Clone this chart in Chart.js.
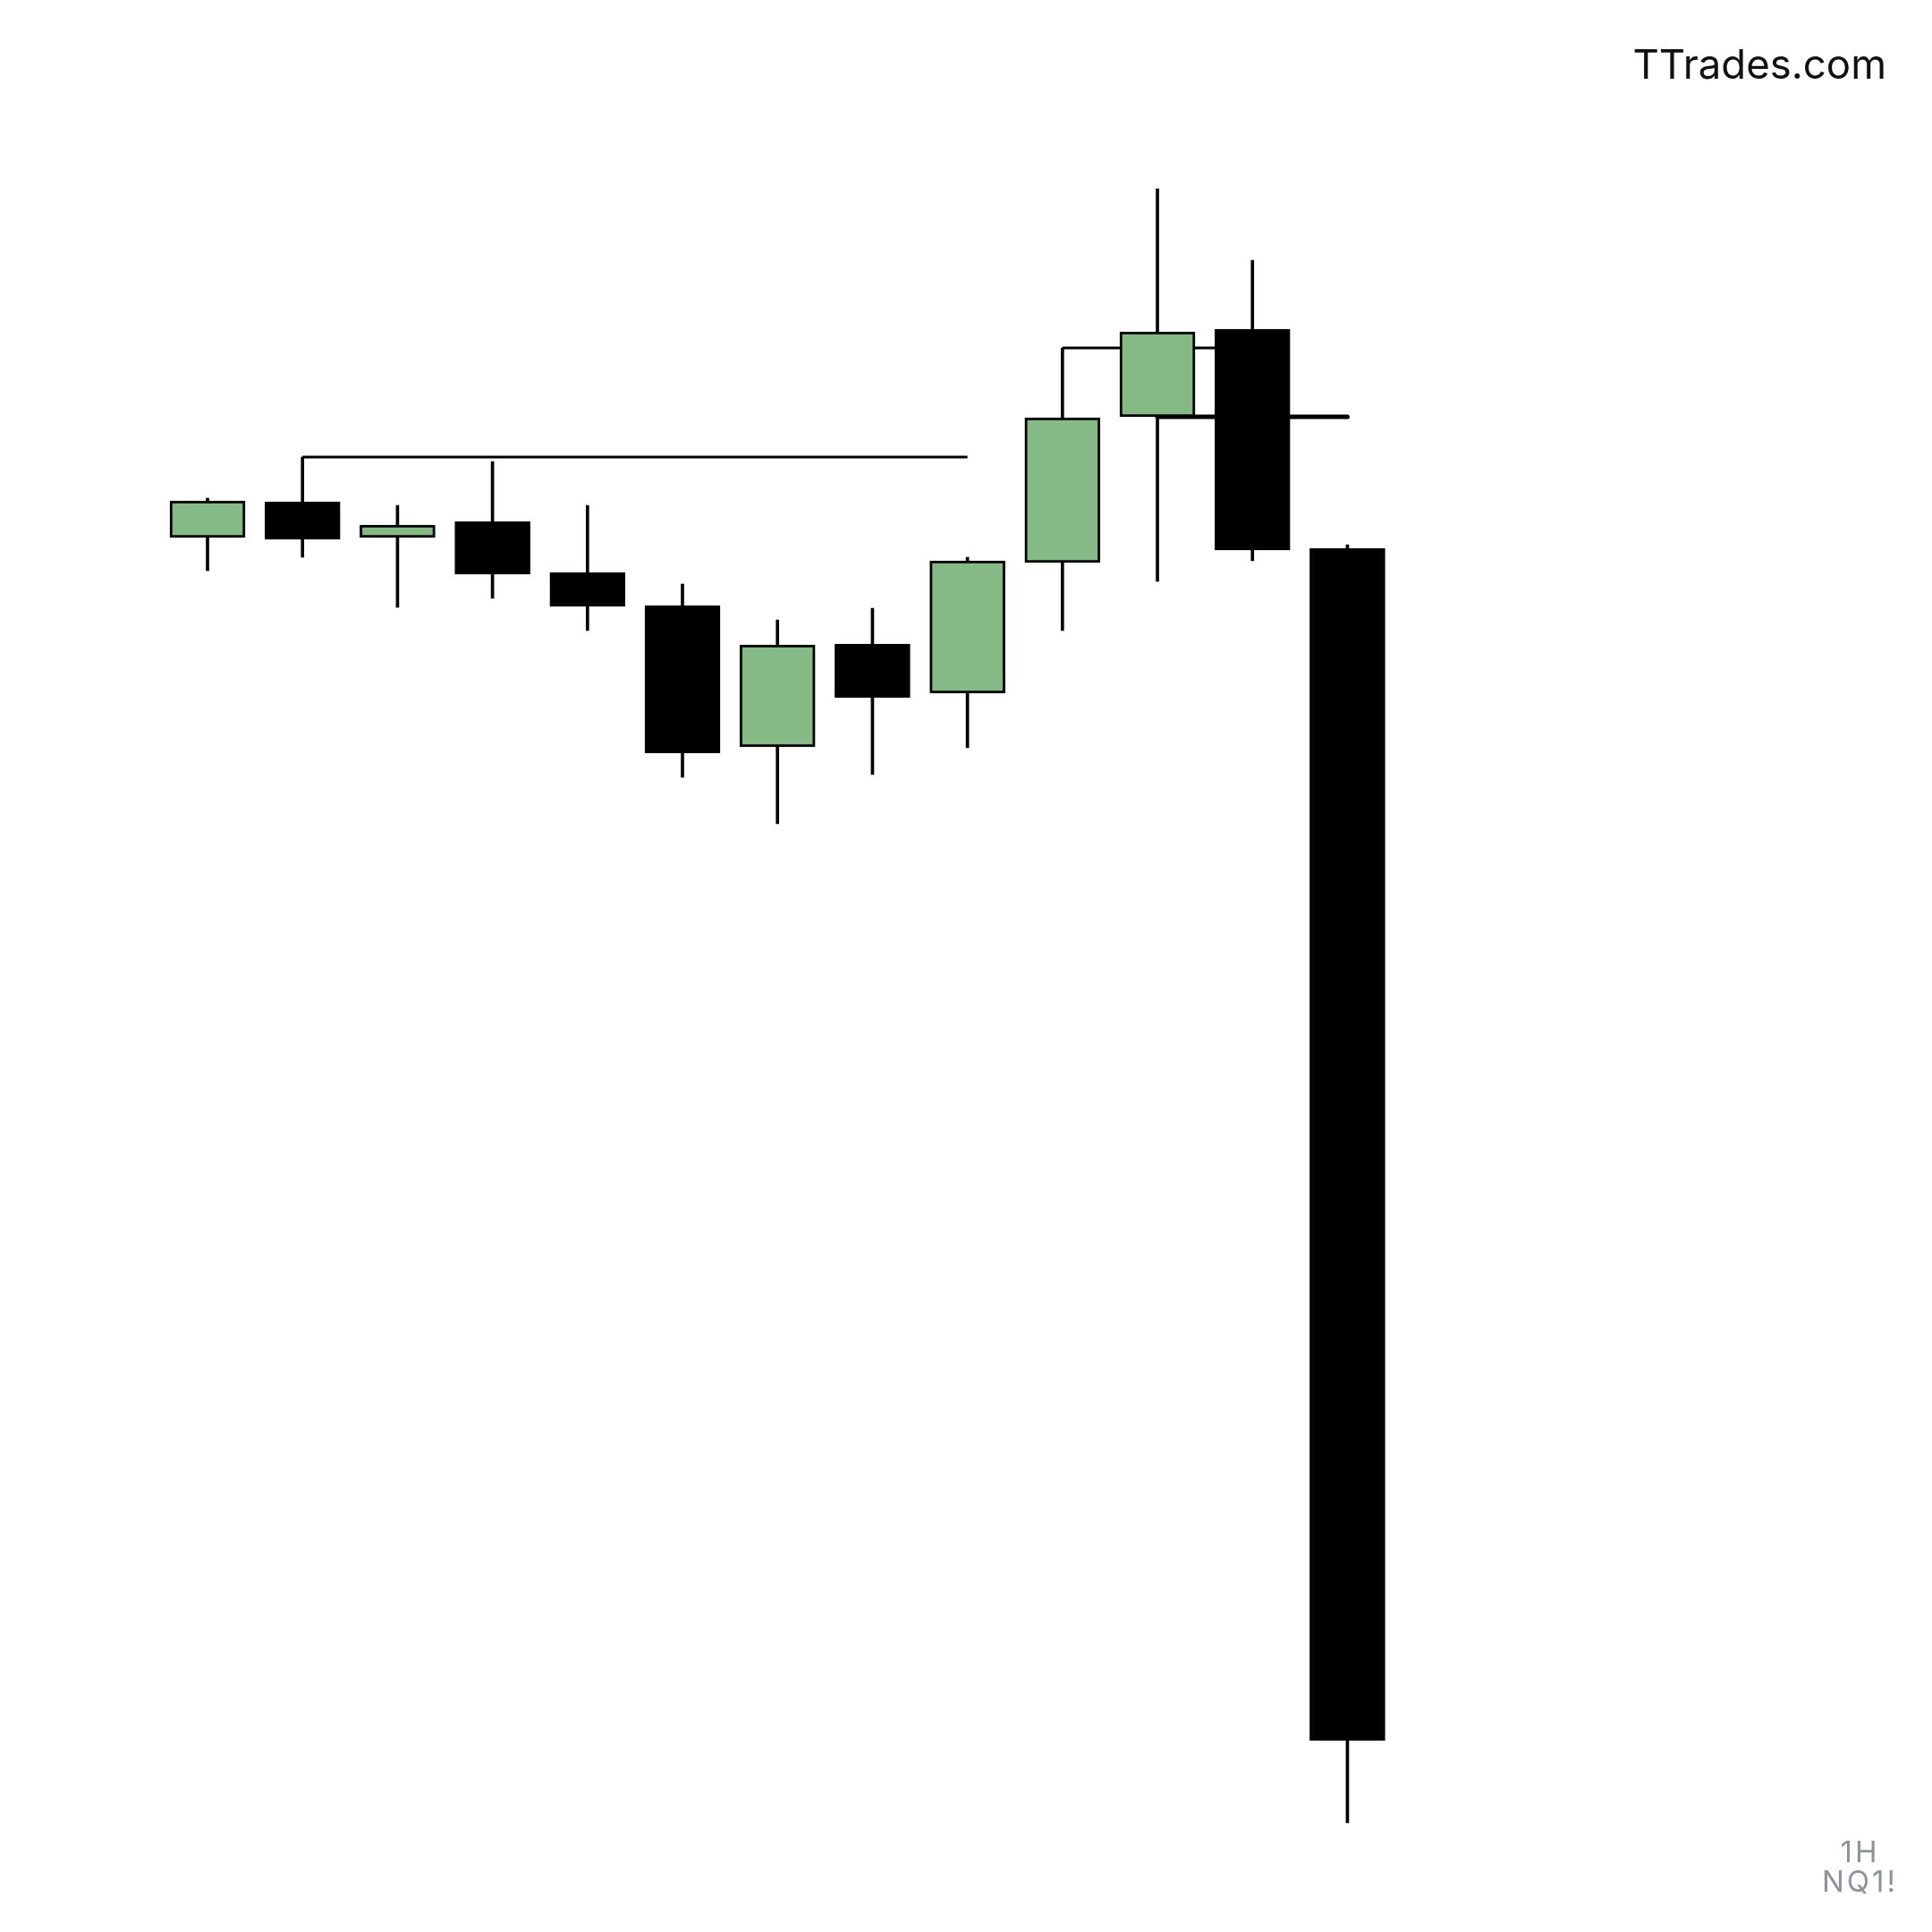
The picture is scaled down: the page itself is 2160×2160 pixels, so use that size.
<!DOCTYPE html>
<html>
<head>
<meta charset="utf-8">
<script src="https://cdn.jsdelivr.net/npm/chart.js@4.4.1/dist/chart.umd.min.js"></script>
<style>
  html, body { margin: 0; padding: 0; background: #ffffff; }
  #wrap { position: relative; width: 2160px; height: 2160px; overflow: hidden; background: #ffffff; }
  canvas { position: absolute; left: 0; top: 0; }
  .brand { position: absolute; right: 51px; top: 49px; font-family: Inter, "Noto Sans", sans-serif; font-size: 45.5px; line-height: 46px; color: #111111; white-space: nowrap; }
  .tf { position: absolute; left: 1978px; top: 2054px; width: 200px; text-align: center; font-family: Inter, "Noto Sans", sans-serif; font-size: 33px; line-height: 33px; letter-spacing: 3px; padding-left: 3px; box-sizing: border-box; color: #8f929b; }
</style>
</head>
<body>
<div id="wrap">
  <canvas id="c" width="2160" height="2160"></canvas>
  <div class="brand">TTrades.com</div>
  <div class="tf">1H<br>NQ1!</div>
</div>
<script>
// NQ1! 1H candles
const idx    = [0, 1, 2, 3, 4, 5, 6, 7, 8, 9, 10, 11, 12];
const opens  = [20849.75, 20859.75, 20849.75, 20854.25, 20840.00, 20830.75, 20791.25, 20820.00, 20806.25, 20842.75, 20883.50, 20908.00, 20846.75];
const closes = [20860.00, 20849.25, 20853.25, 20839.50, 20830.50, 20789.50, 20819.75, 20805.00, 20843.25, 20883.25, 20907.25, 20846.25, 20513.50];
const highs  = [20860.75, 20872.25, 20858.75, 20871.00, 20858.75, 20836.75, 20826.75, 20830.00, 20844.25, 20902.75, 20947.25, 20927.25, 20847.75];
const lows   = [20840.50, 20844.25, 20830.25, 20832.75, 20823.75, 20782.75, 20769.75, 20783.50, 20791.00, 20823.75, 20837.50, 20843.25, 20490.50];

// Horizontal level lines: [startIndex, endIndex, price]
const level1 = [1, 8, 20872.25];
const level2 = [9, 11, 20902.75];
const level3 = [10, 12, 20883.50];

const UP = '#85b985';
const DOWN = '#000000';

const bodyData = idx.map(i => ({ x: i, y: [opens[i], closes[i]] }));
const wickData = idx.map(i => ({ x: i, y: [lows[i], highs[i]] }));
const bodyColors = idx.map(i => closes[i] >= opens[i] ? UP : DOWN);

const lineDs = (lv, w, cap) => ({
  type: 'line',
  data: [{ x: lv[0], y: lv[2] }, { x: lv[1], y: lv[2] }],
  borderColor: '#000000',
  borderWidth: w,
  borderCapStyle: cap,
  pointRadius: 0,
  fill: false,
  tension: 0,
  order: 3
});

new Chart(document.getElementById('c'), {
  type: 'bar',
  data: {
    datasets: [
      {
        data: bodyData,
        backgroundColor: bodyColors,
        borderColor: '#000000',
        borderWidth: 3,
        borderSkipped: false,
        barThickness: 84,
        grouped: false,
        order: 0
      },
      {
        data: wickData,
        backgroundColor: '#000000',
        borderWidth: 0,
        barThickness: 3,
        grouped: false,
        order: 1
      },
      lineDs(level1, 3, 'butt'),
      lineDs(level2, 3, 'butt'),
      lineDs(level3, 5, 'round')
    ]
  },
  options: {
    responsive: false,
    animation: false,
    devicePixelRatio: 1,
    layout: { padding: 0 },
    plugins: { legend: { display: false }, tooltip: { enabled: false }, title: { display: false } },
    scales: {
      x: { type: 'linear', min: -2.1846, max: 18.154, display: false, offset: false },
      y: { type: 'linear', min: 20460, max: 21000, display: false }
    }
  }
});
</script>
</body>
</html>
